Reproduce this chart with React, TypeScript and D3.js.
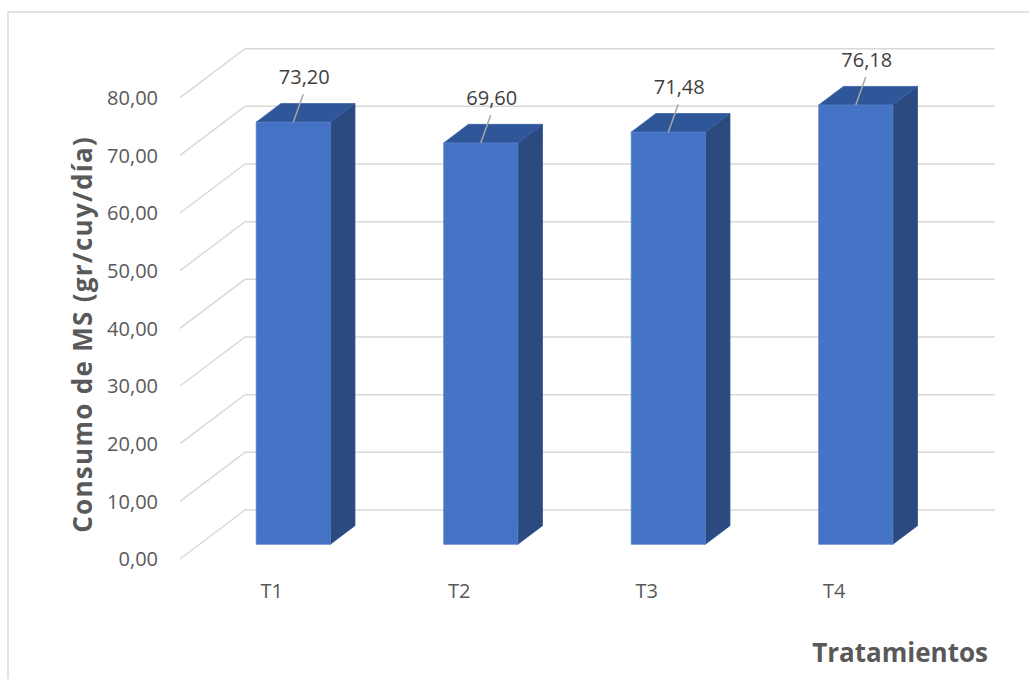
import { useCallback, useEffect, useRef } from "react";
import * as d3 from "d3";

const categories = ["T1", "T2", "T3", "T4"];
const values = [73.2, 69.6, 71.48, 76.18];
const yTicks = [0, 10, 20, 30, 40, 50, 60, 70, 80];

const fmt = (v: number) => v.toFixed(2).replace(".", ",");

export default function App() {
  const chart = useRef<SVGSVGElement | null>(null);
  const width = 1029;
  const height = 679;

  // front plane of the 3d box, and how far the back wall is shifted
  const plot = { left: 180, right: 930, bottom: 559, top: 97.7 };
  const depth = { dx: 65, dy: -49 };
  const barDepth = { front: 0.3, back: 0.68 };

  const drawChart = useCallback(() => {
    const svg = d3.select(chart.current);
    svg.selectAll("*").remove();

    const x = d3.scaleBand<string>()
      .domain(categories)
      .range([plot.left, plot.right])
      .paddingInner(0.605)
      .paddingOuter(0.3025);
    const y = d3.scaleLinear().domain([0, 80]).range([plot.bottom, plot.top]);

    const P = (px: number, v: number, d: number): [number, number] => [
      px + d * depth.dx,
      y(v) + d * depth.dy,
    ];
    const poly = (pts: [number, number][]) => pts.map((p) => p.join(",")).join(" ");

    // outer frame
    svg.append("path")
      .attr("d", `M8,${height + 2} L8,12 L${width + 2},12`)
      .attr("fill", "none")
      .attr("stroke", "#d9d9d9")
      .attr("stroke-width", 1.5);

    // gridlines: side wall diagonal + back wall horizontal
    svg.append("g")
      .selectAll("polyline")
      .data(yTicks)
      .enter()
      .append("polyline")
      .attr("points", (v) => poly([P(plot.left, v, 0), P(plot.left, v, 1), P(plot.right, v, 1)]))
      .attr("fill", "none")
      .attr("stroke", "#d9d9d9")
      .attr("stroke-width", 1.5);

    // y tick labels
    svg.append("g")
      .selectAll("text")
      .data(yTicks)
      .enter()
      .append("text")
      .attr("x", plot.left - 22)
      .attr("y", (v) => y(v))
      .attr("dy", "0.36em")
      .attr("text-anchor", "end")
      .attr("fill", "#595959")
      .attr("font-size", "20px")
      .attr("font-family", "Open Sans, sans-serif")
      .text((v) => fmt(v));

    // bars
    const bars = svg.append("g")
      .selectAll("g")
      .data(categories.map((c, i) => ({ c, v: values[i] })))
      .enter()
      .append("g");

    const f = barDepth.front;
    const b = barDepth.back;

    bars.append("polygon")
      .attr("points", (d) => {
        const x1 = (x(d.c) as number) + x.bandwidth();
        return poly([P(x1, 0, f), P(x1, 0, b), P(x1, d.v, b), P(x1, d.v, f)]);
      })
      .attr("fill", "#2a4a80")
      .attr("stroke", "#2e5190")
      .attr("stroke-width", 0.8);

    bars.append("polygon")
      .attr("points", (d) => {
        const x0 = x(d.c) as number;
        const x1 = x0 + x.bandwidth();
        return poly([P(x0, d.v, f), P(x1, d.v, f), P(x1, d.v, b), P(x0, d.v, b)]);
      })
      .attr("fill", "#30569a")
      .attr("stroke", "#3860a8")
      .attr("stroke-width", 0.8);

    bars.append("polygon")
      .attr("points", (d) => {
        const x0 = x(d.c) as number;
        const x1 = x0 + x.bandwidth();
        return poly([P(x0, 0, f), P(x1, 0, f), P(x1, d.v, f), P(x0, d.v, f)]);
      })
      .attr("fill", "#4472c4")
      .attr("stroke", "#5580cc")
      .attr("stroke-width", 0.8);

    // data labels with leader lines
    const top = (d: { c: string; v: number }) =>
      P((x(d.c) as number) + x.bandwidth() / 2, d.v, f);

    bars.append("line")
      .attr("x1", (d) => top(d)[0])
      .attr("y1", (d) => top(d)[1])
      .attr("x2", (d) => top(d)[0] + 10)
      .attr("y2", (d) => top(d)[1] - 28)
      .attr("stroke", "#a6a6a6")
      .attr("stroke-width", 1.5);

    bars.append("text")
      .attr("x", (d) => top(d)[0] + 11)
      .attr("y", (d) => top(d)[1] - 38)
      .attr("text-anchor", "middle")
      .attr("fill", "#404040")
      .attr("font-size", "20px")
      .attr("font-family", "Open Sans, sans-serif")
      .text((d) => fmt(d.v));

    // category labels
    svg.append("g")
      .selectAll("text")
      .data(categories)
      .enter()
      .append("text")
      .attr("x", (c) => (x(c) as number) + x.bandwidth() / 2 - 2)
      .attr("y", 598)
      .attr("text-anchor", "middle")
      .attr("fill", "#595959")
      .attr("font-size", "20px")
      .attr("font-family", "Open Sans, sans-serif")
      .text((c) => c);

    // axis titles
    svg.append("text")
      .attr("transform", `translate(92,${(plot.top + plot.bottom) / 2 + 6}) rotate(-90)`)
      .attr("text-anchor", "middle")
      .attr("fill", "#595959")
      .attr("font-size", "26px")
      .attr("letter-spacing", "1.3px")
      .attr("font-weight", "700")
      .attr("font-family", "Open Sans, sans-serif")
      .text("Consumo de MS (gr/cuy/día)");

    svg.append("text")
      .attr("x", 988)
      .attr("y", 662)
      .attr("text-anchor", "end")
      .attr("fill", "#595959")
      .attr("font-size", "26px")
      .attr("font-weight", "700")
      .attr("font-family", "Open Sans, sans-serif")
      .text("Tratamientos");
  }, []);

  useEffect(() => {
    drawChart();
  }, [drawChart]);

  return (
    <svg
      ref={chart}
      width={width}
      height={height}
      style={{ position: "absolute", left: 0, top: 0, background: "#fff" }}
    ></svg>
  );
}
